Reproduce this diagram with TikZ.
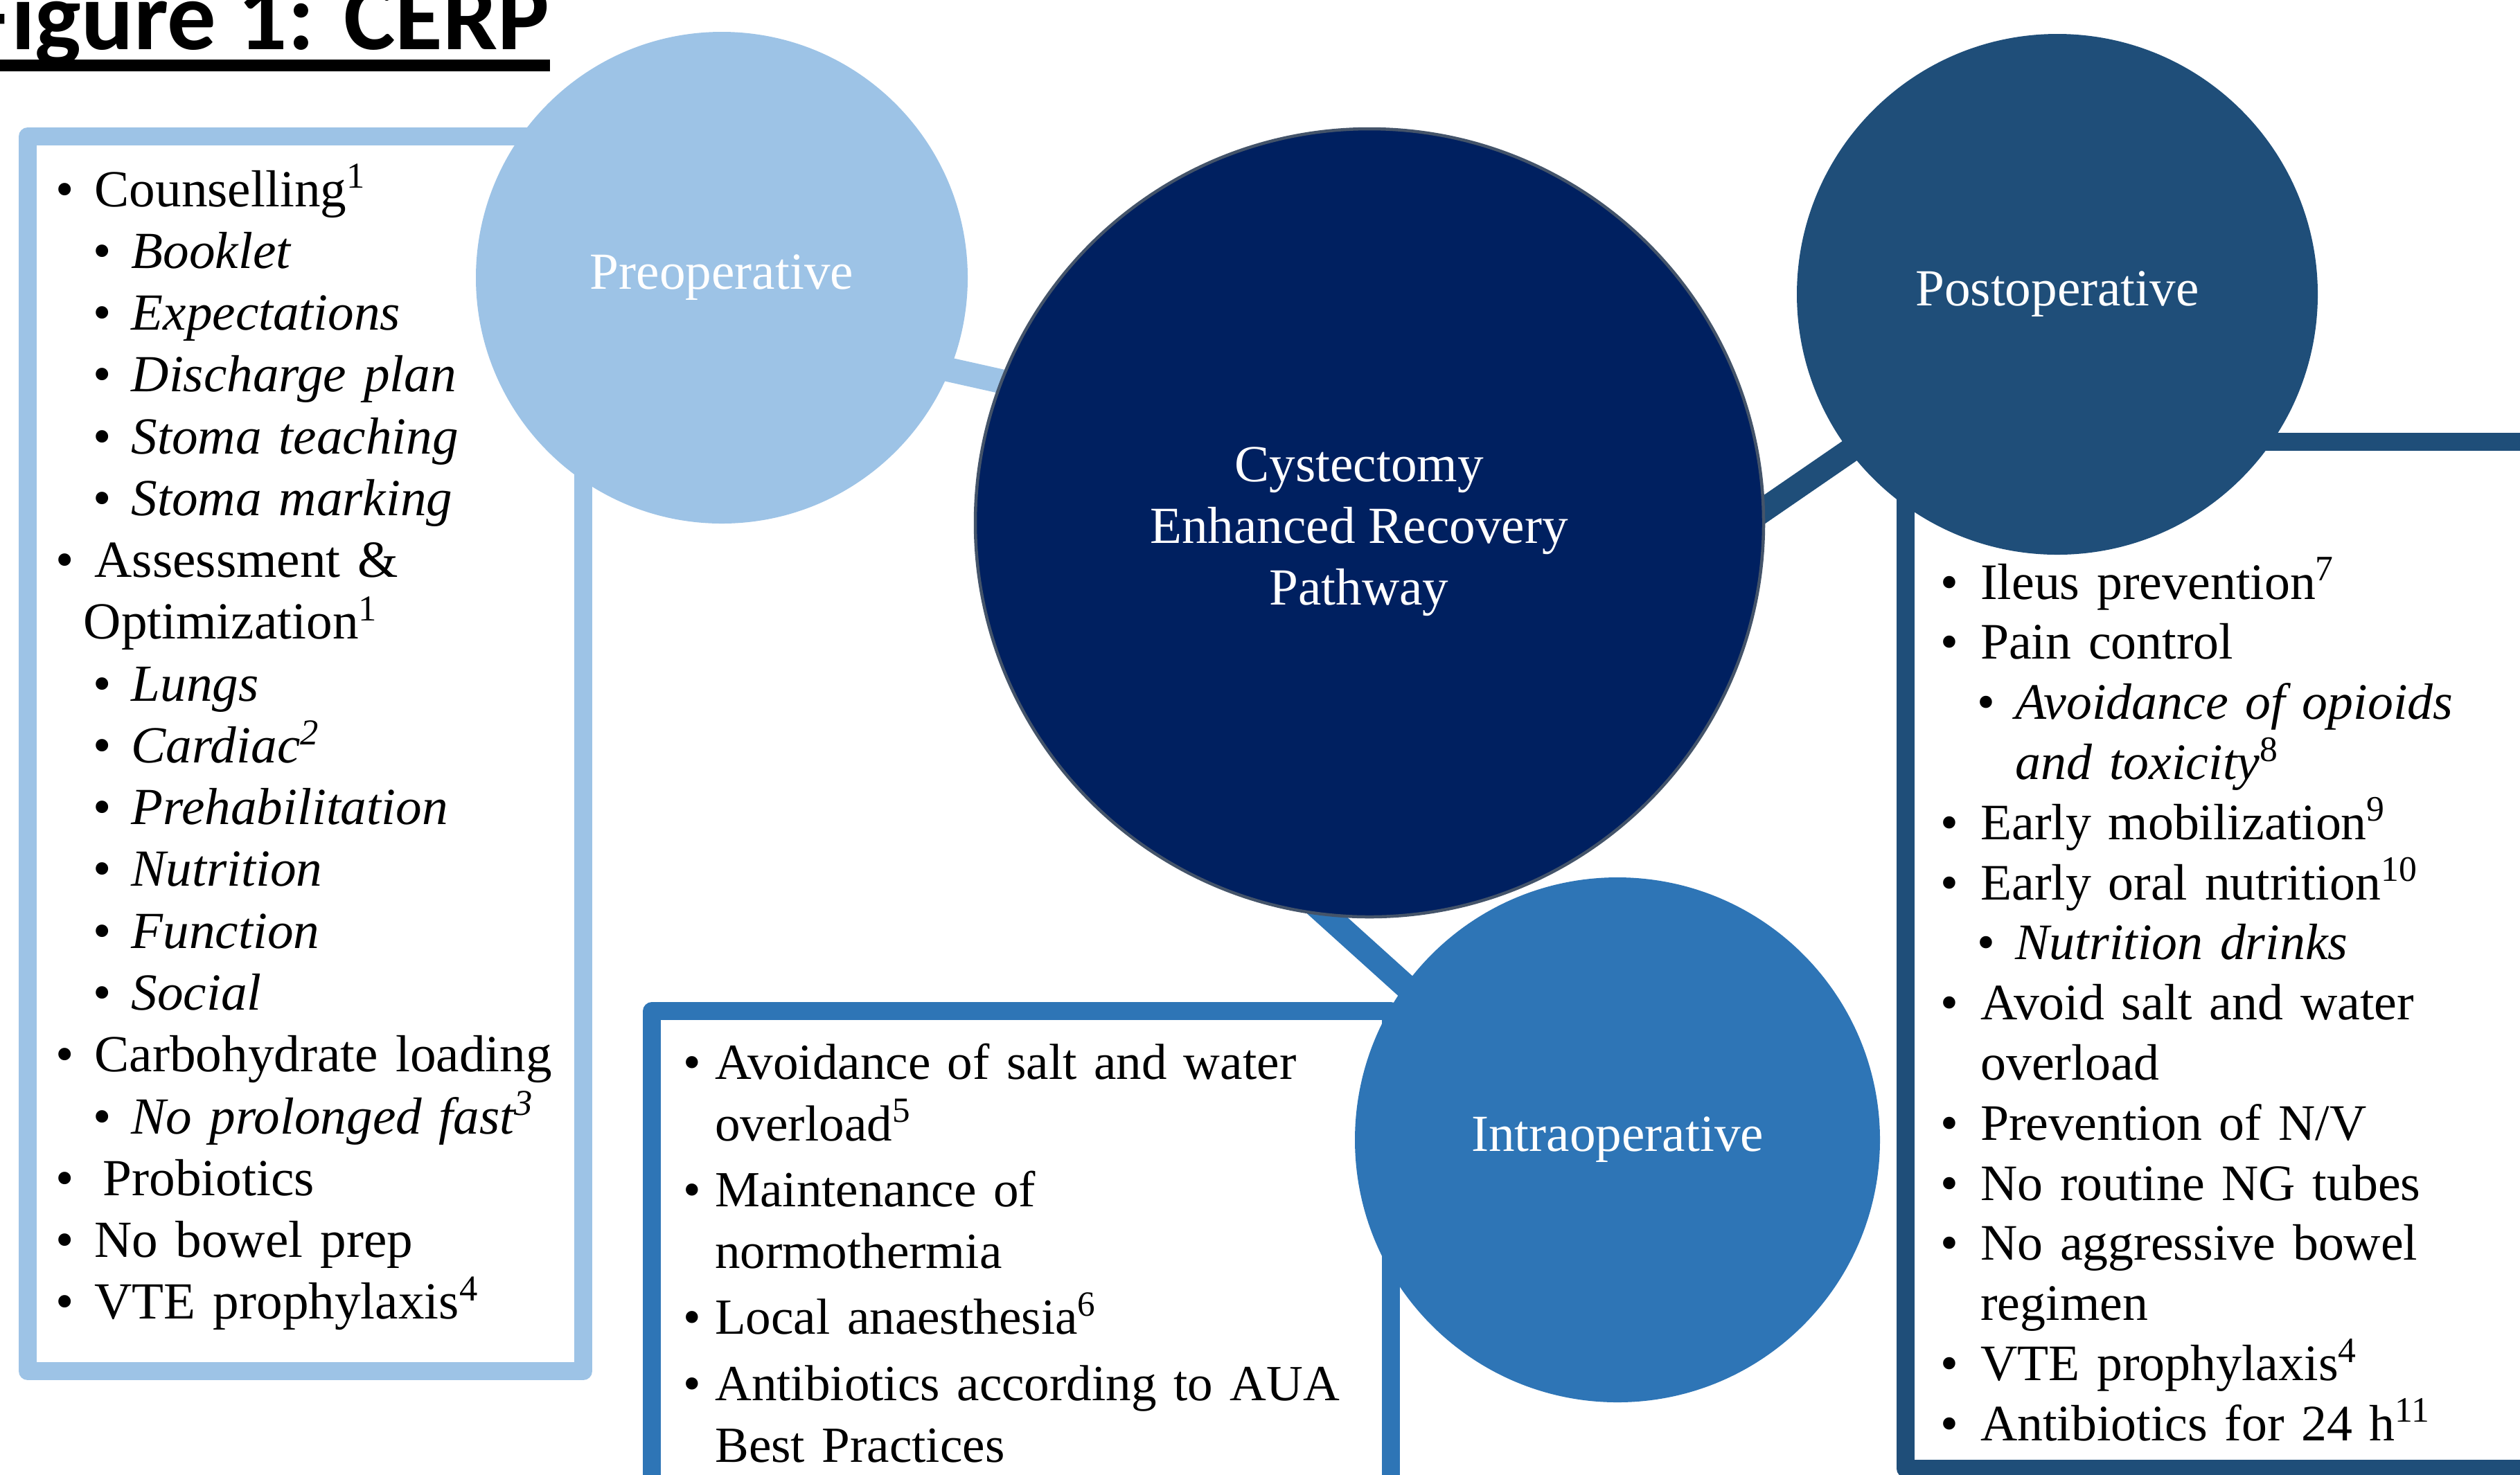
\documentclass[tikz,border=0pt]{standalone}
\usepackage{fontspec}
\setmainfont{Liberation Serif}
\newfontfamily\titlefont{Carlito}
\usetikzlibrary{backgrounds}
\definecolor{preblue}{HTML}{9DC3E6}
\definecolor{cerpnavy}{HTML}{002060}
\definecolor{cerpedge}{HTML}{44546A}
\definecolor{postblue}{HTML}{1F4E79}
\definecolor{intrablue}{HTML}{2E75B6}

\newlength\txtA
\newlength\bulB
\newlength\txtB
\newcommand{\listfont}[2][21.4]{\fontsize{#1}{#2}\selectfont\lineskiplimit=-10pt}
\newcommand{\toppoint}[1]{\leftskip=\txtA\noindent\llap{\makebox[\txtA][l]{\textbullet}}#1\par}
\newcommand{\subpoint}[1]{\leftskip=\txtB\noindent\llap{\makebox[\dimexpr\txtB-\bulB\relax][l]{\textbullet}}\textit{#1}\par}

\begin{document}
\begin{tikzpicture}[
  phase/.style={circle, inner sep=0pt, align=center, text=white, font=\listfont{25.3pt}},
  frame/.style={line width=0.26cm, line join=round},
  itemlist/.style={anchor=base west, inner sep=0pt, text width=#1},
  indents/.style n args={3}{execute at begin node={\setlength\txtA{#1}\setlength\bulB{#2}\setlength\txtB{#3}}},
  link/.style={line width=0.35cm, shorten <=-0.3cm, shorten >=-0.3cm}
]
\useasboundingbox (0,0) rectangle (36.38,-21.29);
\begin{pgfonlayer}{background}
\fill[white] (0,0) rectangle (36.38,-21.29);
\end{pgfonlayer}
\clip (0,0) rectangle (36.38,-21.29);

\node[anchor=base east, inner sep=0pt, font=\titlefont\bfseries\fontsize{40}{48}\selectfont] (title) at (7.94,-0.715) {Figure 1: CERP};
\draw[line width=0.174cm] ([yshift=-0.228cm]title.base west) -- ([yshift=-0.228cm]title.base east);

\draw[frame, draw=preblue] (0.40,-1.97) rectangle (8.42,-19.80);
\draw[frame, draw=intrablue] (9.413,-14.60) rectangle (20.08,-22.5);
\draw[frame, draw=postblue] (27.51,-6.375) rectangle (37.5,-21.206);

\node[itemlist=7.3cm, indents={0.56cm}{0.54cm}{1.09cm}, font={\listfont{25.4pt}}] (prelist) at (0.80,-2.98) {%
\toppoint{Counselling\textsuperscript{1}}
\subpoint{Booklet}
\subpoint{Expectations}
\subpoint{Discharge plan}
\subpoint{Stoma teaching}
\subpoint{Stoma marking}
\toppoint{Assessment \&\\\hspace*{-0.16cm}Optimization\textsuperscript{1}}
\subpoint{Lungs}
\subpoint{Cardiac\textsuperscript{2}}
\subpoint{Prehabilitation}
\subpoint{Nutrition}
\subpoint{Function}
\subpoint{Social}
\toppoint{Carbohydrate loading}
\subpoint{No prolonged fast\textsuperscript{3}}
\toppoint{\hspace{0.12cm}Probiotics}
\toppoint{No bowel prep}
\toppoint{VTE prophylaxis\textsuperscript{4}}};

\node[itemlist=9.9cm, indents={0.456cm}{0cm}{0cm}, font={\listfont[20.8]{25.2pt}}] (intralist) at (9.86,-15.585) {%
\setlength\parskip{2pt}%
\toppoint{Avoidance of salt and water\\overload\textsuperscript{5}}
\toppoint{Maintenance of\\normothermia}
\toppoint{Local anaesthesia\textsuperscript{6}}
\toppoint{Antibiotics according to AUA\\Best Practices}};

\node[itemlist=8.3cm, indents={0.575cm}{0.53cm}{1.08cm}, font={\listfont[21]{24.7pt}}] (postlist) at (28.01,-8.65) {%
\toppoint{Ileus prevention\textsuperscript{7}}
\toppoint{Pain control}
\subpoint{Avoidance of opioids\\and toxicity\textsuperscript{\upshape 8}}
\toppoint{Early mobilization\textsuperscript{9}}
\toppoint{Early oral nutrition\textsuperscript{10}}
\subpoint{Nutrition drinks}
\toppoint{Avoid salt and water\\overload}
\toppoint{Prevention of N/V}
\toppoint{No routine NG tubes}
\toppoint{No aggressive bowel\\regimen}
\toppoint{VTE prophylaxis\textsuperscript{4}}
\toppoint{Antibiotics for 24 h\textsuperscript{11}}};

\node[phase, fill=preblue, minimum size=7.10cm] (pre) at (10.42,-4.01) {Preoperative};
\node[phase, fill=cerpnavy, draw=cerpedge, line width=0.045cm, minimum size=11.38cm] (cerp) at (19.77,-7.55) {};
\node[text=white, align=center, inner sep=0pt, font={\listfont{25.3pt}}] (cerplabel) at ([shift={(-0.15,-0.13)}]cerp.center) {Cystectomy\\Enhanced Recovery\\Pathway};
\node[phase, fill=postblue, minimum size=7.52cm] (post) at (29.70,-4.25) {Postoperative};
\node[phase, fill=intrablue, minimum size=7.58cm] (intra) at (23.35,-16.46) {Intraoperative};

\begin{pgfonlayer}{background}
\draw[link, draw=preblue] (pre.-22.6) -- (cerp.159.8);
\draw[link, draw=postblue] (cerp.2.6) -- (post.217.7);
\draw[link, draw=intrablue] (cerp.264.9) -- (intra.144.6);
\end{pgfonlayer}
\end{tikzpicture}
\end{document}
